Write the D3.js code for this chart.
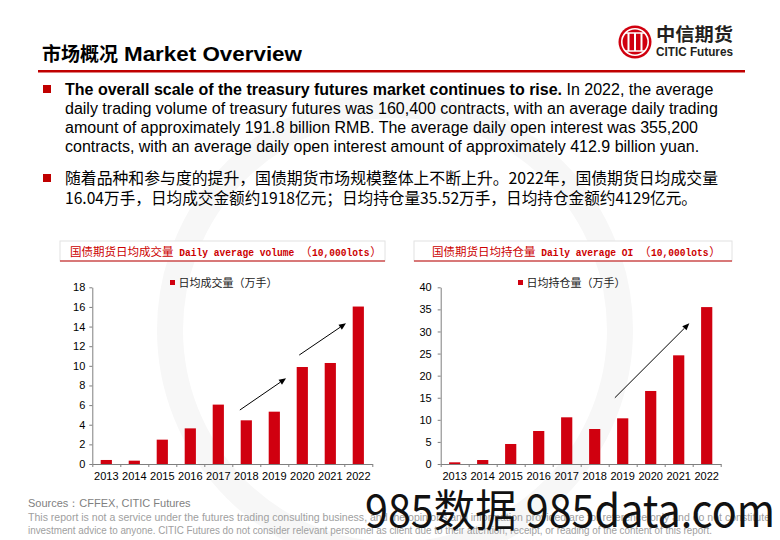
<!DOCTYPE html>
<html><head><meta charset="utf-8">
<script src="https://cdn.jsdelivr.net/npm/d3@7/dist/d3.min.js"></script>
<style>body{margin:0;background:#fff}svg{display:block}</style>
</head><body><svg id="c" width="780" height="540"></svg>
<script>
// ---- data ----
const years = ["2013","2014","2015","2016","2017","2018","2019","2020","2021","2022"];
const volume = [0.41, 0.34, 2.48, 3.63, 6.05, 4.45, 5.33, 9.88, 10.29, 16.04];
const openInterest = [0.38, 0.90, 4.53, 7.47, 10.57, 7.92, 10.34, 16.53, 24.60, 35.52];
const volumeTicks = [0, 2, 4, 6, 8, 10, 12, 14, 16, 18];
const oiTicks = [0, 5, 10, 15, 20, 25, 30, 35, 40];
// arrows: [startIndex, startValue, endIndex, endValue] (index in category steps from axis origin)
const volumeArrows = [[5.27, 5.5, 6.92, 8.73], [7.39, 11.1, 9.06, 14.33]];
const oiArrows = [[6.22, 15.0, 8.88, 31.85]];
const volumeTitleCn = "国债期货日均成交量";
const volumeTitleEn = "Daily average volume";
const oiTitleCn = "国债期货日均持仓量";
const oiTitleEn = "Daily average OI";
const unitText = "10,000lots";
const volumeLegend = "日均成交量（万手）";
const oiLegend = "日均持仓量（万手）";

const RED = "#d0000f";
const svg = d3.select("#c");
const SANS = "'Liberation Sans', Arial, sans-serif";
const CJK = "'Noto Sans CJK SC', 'Liberation Sans', sans-serif";
const MONO = "'Liberation Mono', 'DejaVu Sans Mono', monospace";

// faint background watermark ring
svg.append("circle").attr("cx", 395).attr("cy", 330).attr("r", 225)
  .attr("fill", "none").attr("stroke", "#f7f7f7").attr("stroke-width", 26);

// ---- header ----
svg.append("text").attr("x", 42).attr("y", 61).attr("fill", "#000")
  .attr("font-family", CJK).attr("font-size", 19).attr("font-weight", "bold").text("市场概况");
svg.append("text").attr("x", 124).attr("y", 61).attr("fill", "#000")
  .attr("font-family", SANS).attr("font-size", 20).attr("font-weight", "bold")
  .attr("textLength", 178).attr("lengthAdjust", "spacingAndGlyphs").text("Market Overview");
svg.append("rect").attr("x", 38).attr("y", 70).attr("width", 707).attr("height", 2.5).attr("fill", "#c00000");

// logo
const logo = svg.append("g");
logo.append("circle").attr("cx", 635).attr("cy", 42).attr("r", 16.5).attr("fill", RED);
logo.append("circle").attr("cx", 635).attr("cy", 42).attr("r", 13.2).attr("fill", "none").attr("stroke", "#fff").attr("stroke-width", 1.6);
[628.5, 635, 641.5].forEach(x => {
  logo.append("line").attr("x1", x).attr("x2", x).attr("y1", 33).attr("y2", 51).attr("stroke", "#fff").attr("stroke-width", 2);
});
logo.append("line").attr("x1", 625).attr("x2", 645).attr("y1", 33).attr("y2", 33).attr("stroke", "#fff").attr("stroke-width", 1.5);
logo.append("line").attr("x1", 625).attr("x2", 645).attr("y1", 51).attr("y2", 51).attr("stroke", "#fff").attr("stroke-width", 1.5);
svg.append("text").attr("x", 656).attr("y", 41).attr("font-family", CJK).attr("font-weight", "bold")
  .attr("font-size", 18).attr("fill", "#231f20").attr("textLength", 77).attr("lengthAdjust", "spacingAndGlyphs").text("中信期货");
svg.append("text").attr("x", 656).attr("y", 55.5).attr("font-family", SANS).attr("font-weight", "bold")
  .attr("font-size", 12).attr("fill", "#231f20").attr("textLength", 77).attr("lengthAdjust", "spacingAndGlyphs").text("CITIC Futures");

// ---- paragraphs ----
function bullet(y) {
  svg.append("rect").attr("x", 43).attr("y", y - 4).attr("width", 8).attr("height", 8).attr("fill", "#c00000");
}
bullet(89);
const p1 = svg.append("g").attr("font-family", SANS).attr("font-size", 16).attr("fill", "#000");
const l1 = p1.append("text").attr("x", 65).attr("y", 95);
l1.append("tspan").attr("font-weight", "bold").text("The overall scale of the treasury futures market continues to rise.");
l1.append("tspan").text(" In 2022, the average");
["daily trading volume of treasury futures was 160,400 contracts, with an average daily trading",
 "amount of approximately 191.8 billion RMB. The average daily open interest was 355,200",
 "contracts, with an average daily open interest amount of approximately 412.9 billion yuan."]
 .forEach((t, i) => p1.append("text").attr("x", 65).attr("y", 114 + i * 19).text(t));

bullet(178);
const p2 = svg.append("g").attr("font-family", CJK).attr("font-size", 16).attr("fill", "#000");
p2.append("text").attr("x", 65).attr("y", 184).attr("textLength", 653).attr("lengthAdjust", "spacingAndGlyphs")
  .text("随着品种和参与度的提升，国债期货市场规模整体上不断上升。2022年，国债期货日均成交量");
p2.append("text").attr("x", 65).attr("y", 204).attr("textLength", 632).attr("lengthAdjust", "spacingAndGlyphs")
  .text("16.04万手，日均成交金额约1918亿元；日均持仓量35.52万手，日均持仓金额约4129亿元。");

// ---- charts ----
const Y0 = 464, Y1 = 287.3;
function drawChart(o) {
  const g = svg.append("g");
  // title box
  g.append("rect").attr("x", o.boxX).attr("y", 241).attr("width", o.boxW).attr("height", 20)
    .attr("fill", "#fff").attr("stroke", "#e2e2e2").attr("stroke-width", 1);
  g.append("line").attr("x1", o.boxX).attr("x2", o.boxX + o.boxW).attr("y1", 261).attr("y2", 261)
    .attr("stroke", "#c00000").attr("stroke-width", 1.2);
  // title: CJK glyphs full width, Latin half width (SimSun-like); [text, kind, gapBefore]
  const FS = 11.5;
  const parts = [[o.titleCn, "cjk", 0], [o.titleEn, "lat", FS * 0.5], ["（", "cjk", FS * 0.5], [unitText, "lat", 0.6], ["）", "cjk", 0.6]];
  let cx = o.titleX;
  parts.forEach(([t, k, gap]) => {
    cx += gap;
    const w = k === "cjk" ? t.length * FS : t.length * FS * 0.5;
    g.append("text").attr("x", cx).attr("y", 256).attr("fill", "#cc0000")
      .attr("font-family", k === "cjk" ? CJK : MONO).attr("font-size", k === "cjk" ? FS : 10.5)
      .attr("font-weight", k === "cjk" ? "normal" : "bold")
      .attr("textLength", w).attr("lengthAdjust", "spacingAndGlyphs").text(t);
    cx += w;
  });

  const x = d3.scaleBand().domain(years).range([o.x0, o.x0 + 280]).paddingInner(0.6).paddingOuter(0.3);
  const xi = d3.scaleLinear().domain([0, 10]).range([o.x0, o.x0 + 280]);
  const y = d3.scaleLinear().domain([0, o.max]).range([Y0, Y1]);

  g.selectAll("rect.bar").data(o.values).join("rect").attr("class", "bar")
    .attr("x", (d, i) => x(years[i])).attr("width", x.bandwidth())
    .attr("y", d => y(d)).attr("height", d => Y0 - y(d)).attr("fill", RED);

  const ya = g.append("g").attr("transform", `translate(${o.x0},0)`)
    .call(d3.axisLeft(y).tickValues(o.ticks).tickSize(3).tickSizeOuter(0).tickPadding(o.pad));
  ya.select(".domain").attr("stroke", "#7f7f7f");
  ya.selectAll(".tick line").attr("stroke", "#7f7f7f");
  ya.selectAll("text").attr("font-family", SANS).attr("font-size", 11).attr("fill", "#000");

  const xa = g.append("g").attr("transform", `translate(0,${Y0})`)
    .call(d3.axisBottom(xi).tickValues(d3.range(0, 11)).tickSize(3).tickSizeOuter(0).tickFormat(""));
  xa.select(".domain").attr("stroke", "#7f7f7f");
  xa.selectAll(".tick line").attr("stroke", "#7f7f7f");
  g.selectAll("text.xl").data(years).join("text").attr("class", "xl")
    .attr("x", d => x(d) + x.bandwidth() / 2).attr("y", 480)
    .attr("text-anchor", "middle").attr("font-family", SANS).attr("font-size", 11).attr("fill", "#000").text(d => d);

  // legend
  g.append("rect").attr("x", o.legX).attr("y", 280).attr("width", 5).attr("height", 5).attr("fill", RED);
  g.append("text").attr("x", o.legX + 8.5).attr("y", 286.5).attr("font-family", CJK).attr("font-size", 11)
    .attr("fill", "#222").text(o.legend);

  // arrows
  o.arrows.forEach(a => {
    const x1 = xi(a[0]), y1 = y(a[1]), x2 = xi(a[2]), y2 = y(a[3]);
    const ang = Math.atan2(y2 - y1, x2 - x1);
    const L = 7, W = 3;
    const bx = x2 - L * Math.cos(ang), by = y2 - L * Math.sin(ang);
    g.append("line").attr("x1", x1).attr("y1", y1).attr("x2", bx).attr("y2", by).attr("stroke", "#000").attr("stroke-width", 1);
    g.append("path").attr("d", `M${x2},${y2}L${bx + W * Math.sin(ang)},${by - W * Math.cos(ang)}L${bx - W * Math.sin(ang)},${by + W * Math.cos(ang)}Z`)
      .attr("fill", "#000");
  });
}
drawChart({x0: 92.3, max: 18, ticks: volumeTicks, values: volume, boxX: 60, boxW: 325, titleX: 70,
  titleCn: volumeTitleCn, titleEn: volumeTitleEn, legX: 170, legend: volumeLegend, arrows: volumeArrows, pad: 4});
drawChart({x0: 440.7, max: 40, ticks: oiTicks, values: openInterest, boxX: 414, boxW: 318, titleX: 432,
  titleCn: oiTitleCn, titleEn: oiTitleEn, legX: 518, legend: oiLegend, arrows: oiArrows, pad: 6});

// ---- footer ----
svg.append("text").attr("x", 28).attr("y", 507).attr("font-family", SANS).attr("font-size", 11)
  .attr("fill", "#7f7f7f").text("Sources：CFFEX, CITIC Futures");
svg.append("text").attr("x", 28).attr("y", 521).attr("font-family", SANS).attr("font-size", 11)
  .attr("fill", "#a0a0a0").attr("textLength", 742).attr("lengthAdjust", "spacingAndGlyphs")
  .text("This report is not a service under the futures trading consulting business, and the opinions and information provided are for reference only and do not constitute");
svg.append("text").attr("x", 28).attr("y", 534).attr("font-family", SANS).attr("font-size", 11)
  .attr("fill", "#a0a0a0").attr("textLength", 684).attr("lengthAdjust", "spacingAndGlyphs")
  .text("investment advice to anyone. CITIC Futures do not consider relevant personnel as client due to their attention, receipt, or reading of the content of this report.");
// site watermark
svg.append("text").attr("x", 365).attr("y", 527).attr("font-family", CJK).attr("font-size", 44)
  .attr("fill", "#111").attr("textLength", 410).attr("lengthAdjust", "spacingAndGlyphs").text("985数据 985data.com");
</script></body></html>
